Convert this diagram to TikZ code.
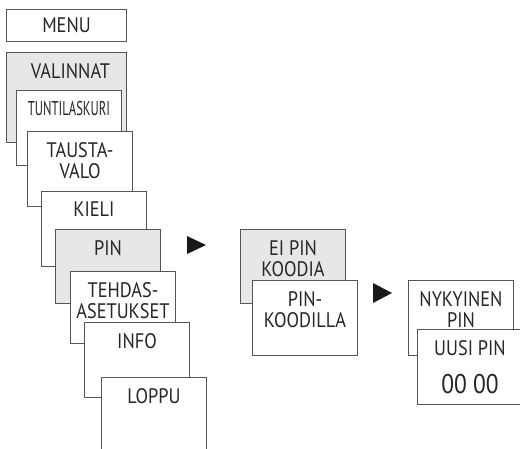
\documentclass[tikz,border=0pt]{standalone}
\usepackage{fontspec}
\setmainfont[FakeStretch=0.87]{PT Sans}
\usepackage{graphicx}
\usepackage{tikz}
\usetikzlibrary{calc,positioning}
\definecolor{menugray}{RGB}{230,231,233}
\definecolor{edgegray}{RGB}{85,85,85}
\tikzset{
  card/.style={draw=edgegray, line width=1pt, fill=white, anchor=north west,
    minimum width=105pt, minimum height=75pt, inner sep=0pt,
    font=\fontsize{21}{20}\selectfont, text=black!85},
  shadedcard/.style={card, fill=menugray},
  lbl/.style={anchor=north, inner sep=0pt, yshift=-11pt, align=center,
    font=\fontsize{21}{21}\selectfont, text=black!85},
  tip/.style={fill=black!90}
}

\begin{document}
\begin{tikzpicture}[x=1pt,y=-1pt]
\useasboundingbox (0,0) rectangle (520,448);
\clip (0,0) rectangle (520,448);

\node[card, minimum width=120pt, minimum height=32pt] (menu) at (6,9) {MENU};
\node[shadedcard, minimum width=120pt, minimum height=90pt, label={[lbl, xshift=4pt]north:VALINNAT}] (valinnat) at (6,52) {};
\node[card, label={[lbl]north:\scalebox{0.69}[0.95]{TUNTILASKURI}}] (tunti) at (16,90) {};
\node[card, label={[lbl]north:TAUSTA-\\VALO}] (tausta) at (27,131) {};
\node[card, label={[lbl]north:KIELI}] (kieli) at (41,191) {};
\node[shadedcard, minimum height=74pt, label={[lbl]north:PIN}] (pin) at (55,229) {};
\node[card, minimum height=72pt, label={[lbl]north:TEHDAS-\\ASETUKSET}] (tehdas) at (70,271) {};
\node[card, label={[lbl]north:INFO}] (info) at (84,322) {};
\node[card, label={[lbl]north:LOPPU}] (loppu) at (101,377) {};

\fill[tip] (187,236) -- (206,245) -- (187,254) -- cycle;

\node[shadedcard, minimum height=74pt, label={[lbl]north:EI PIN\\KOODIA}] (eipin) at (240,229) {};
\node[card, label={[lbl]north:PIN-\\KOODILLA}] (pinkoodi) at (252,280) {};

\fill[tip] (373,283) -- (392,293) -- (373,303) -- cycle;

\node[card, label={[lbl]north:NYKYINEN\\PIN}] (nykyinen) at (408,280) {};
\node[card, label={[lbl]north:UUSI PIN},
  label={[lbl, yshift=-34pt, font=\fontsize{27}{28}\selectfont]north:00 00}] (uusi) at (417,329) {};
\end{tikzpicture}
\end{document}
